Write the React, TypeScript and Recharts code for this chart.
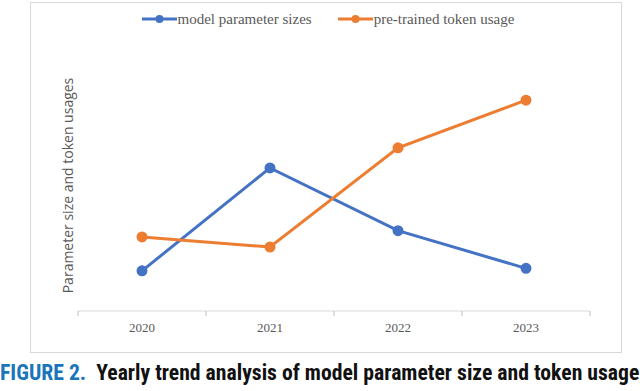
import { LineChart, Line, XAxis, YAxis, Legend } from 'recharts'

const years = ['2020', '2021', '2022', '2023']
const paramSizes = [16, 57, 32, 17]
const tokenUsage = [29.5, 25.5, 65, 84]
const tickPositions = [-0.5, 0, 0.5, 1, 1.5, 2, 2.5, 3, 3.5]

const BLUE = '#4472c4'
const ORANGE = '#ed7d31'
const GREY = '#595959'

const data = years.map((y, i) => ({ x: i, year: y, params: paramSizes[i], tokens: tokenUsage[i] }))

// boundaries get a tick mark, category centres get the year label
const YearTick = ({ x, y, payload }: any) => {
  const v = payload.value
  if (Number.isInteger(v)) {
    return (
      <text x={x} y={y + 13} textAnchor="middle" fontSize={13}
        fontFamily="'Liberation Serif', serif" fill={GREY}>
        {years[v]}
      </text>
    )
  }
  return <line x1={x} x2={x} y1={y - 8} y2={y - 3} stroke="#bfbfbf" strokeWidth={1} />
}

const LegendContent = () => {
  const items = [
    { name: 'model parameter sizes', color: BLUE },
    { name: 'pre-trained token usage', color: ORANGE },
  ]
  return (
    <div style={{ display: 'flex', justifyContent: 'center', gap: 26, marginLeft: 16, height: 16 }}>
      {items.map(it => (
        <div key={it.name} style={{ display: 'flex', alignItems: 'center' }}>
          <svg width={35} height={10}>
            <line x1={0} x2={35} y1={5} y2={5} stroke={it.color} strokeWidth={3} />
            <circle cx={17.5} cy={5} r={4} fill={it.color} />
          </svg>
          <span style={{ fontFamily: "'Liberation Serif', serif", fontSize: 15, color: GREY, marginLeft: 1 }}>
            {it.name}
          </span>
        </div>
      ))}
    </div>
  )
}

export default function App() {
  return (
    <div style={{ position: 'absolute', left: 0, top: 0, width: 640, height: 391, background: '#fff' }}>
      <div style={{
        position: 'absolute', left: 30, top: 2, width: 590, height: 349,
        border: '1px solid #d9d9d9',
      }} />
      <div style={{ position: 'absolute', left: 0, top: 0 }}>
        <LineChart width={640} height={355} data={data}
          margin={{ top: 44, right: 50, left: 0, bottom: 0 }}>
          <XAxis dataKey="x" type="number" domain={[-0.5, 3.5]} ticks={tickPositions}
            interval={0} tickLine={false} axisLine={{ stroke: '#d9d9d9' }}
            tick={<YearTick />} height={44} />
          <YAxis type="number" domain={[0, 100]} width={78} axisLine={false} tickLine={false} tick={false}
            label={{
              value: 'Parameter size and token usages', angle: -90, position: 'center', dx: 29,
              style: { fontFamily: "'Open Sans', sans-serif", fontSize: 14, fill: GREY },
            }} />
          <Legend verticalAlign="top" content={<LegendContent />}
            wrapperStyle={{ top: 11, left: 0, width: 640 }} />
          <Line dataKey="params" stroke={BLUE} strokeWidth={3}
            dot={{ r: 4, fill: BLUE, stroke: BLUE }} isAnimationActive={false} />
          <Line dataKey="tokens" stroke={ORANGE} strokeWidth={3}
            dot={{ r: 4, fill: ORANGE, stroke: ORANGE }} isAnimationActive={false} />
        </LineChart>
      </div>
      <div style={{
        position: 'absolute', left: 0, top: 360, width: 640, whiteSpace: 'nowrap',
        fontFamily: "'Liberation Sans Narrow', 'Roboto Condensed', 'Liberation Sans', sans-serif",
        fontWeight: 700, fontSize: 21.7,
      }}>
        <span style={{ color: '#1a75bb' }}>FIGURE 2.</span>
        <span style={{ color: '#111', marginLeft: 10 }}>Yearly trend analysis of model parameter size and token usage</span>
      </div>
    </div>
  )
}
